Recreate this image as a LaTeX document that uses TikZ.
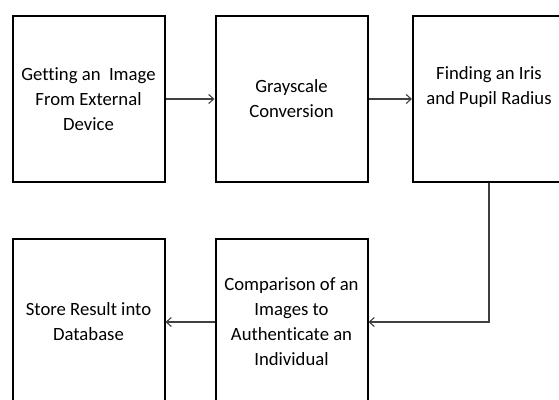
\documentclass[tikz,border=0pt]{standalone}
\usepackage{fontspec}
\setmainfont{Carlito}[Ligatures=NoCommon]
\usetikzlibrary{arrows.meta}
\begin{document}
\begin{tikzpicture}[x=1pt,y=-1pt,
  stepbox/.style={draw=black,line width=2pt,minimum width=152pt,minimum height=166.5pt,inner sep=0pt,align=center,font=\fontsize{18.7pt}{25pt}\selectfont},
  txt/.style={inner sep=0pt,align=center,font=\fontsize{18.7pt}{25pt}\selectfont},
  conn/.style={draw={rgb,255:red,64;green,64;blue,64},line width=1.1pt,-{Straight Barb[length=5pt,width=9pt,line width=1.1pt]}}]
\useasboundingbox (0,0) rectangle (559,399);
\clip (0,0) rectangle (559,399);
\node[stepbox] (b1) at (88.5,99) {Getting an\ \ Image\\From External\\Device};
\node[stepbox] (b2) at (291.5,99) {Grayscale\\Conversion};
\node[stepbox] (b3) at (489,99) {};
\node[txt] (t3) at (489,87) {Finding an Iris\\and Pupil Radius};
\node[stepbox] (b4) at (88.5,322) {Store Result into\\Database};
\node[stepbox] (b5) at (291.5,322) {Comparison of an\\Images to\\Authenticate an\\Individual};
\draw[conn] (b1) -- (b2);
\draw[conn] (b2) -- (b3);
\draw[conn] (b3.south) |- (b5.east);
\draw[conn] (b5) -- (b4);
\end{tikzpicture}
\end{document}
